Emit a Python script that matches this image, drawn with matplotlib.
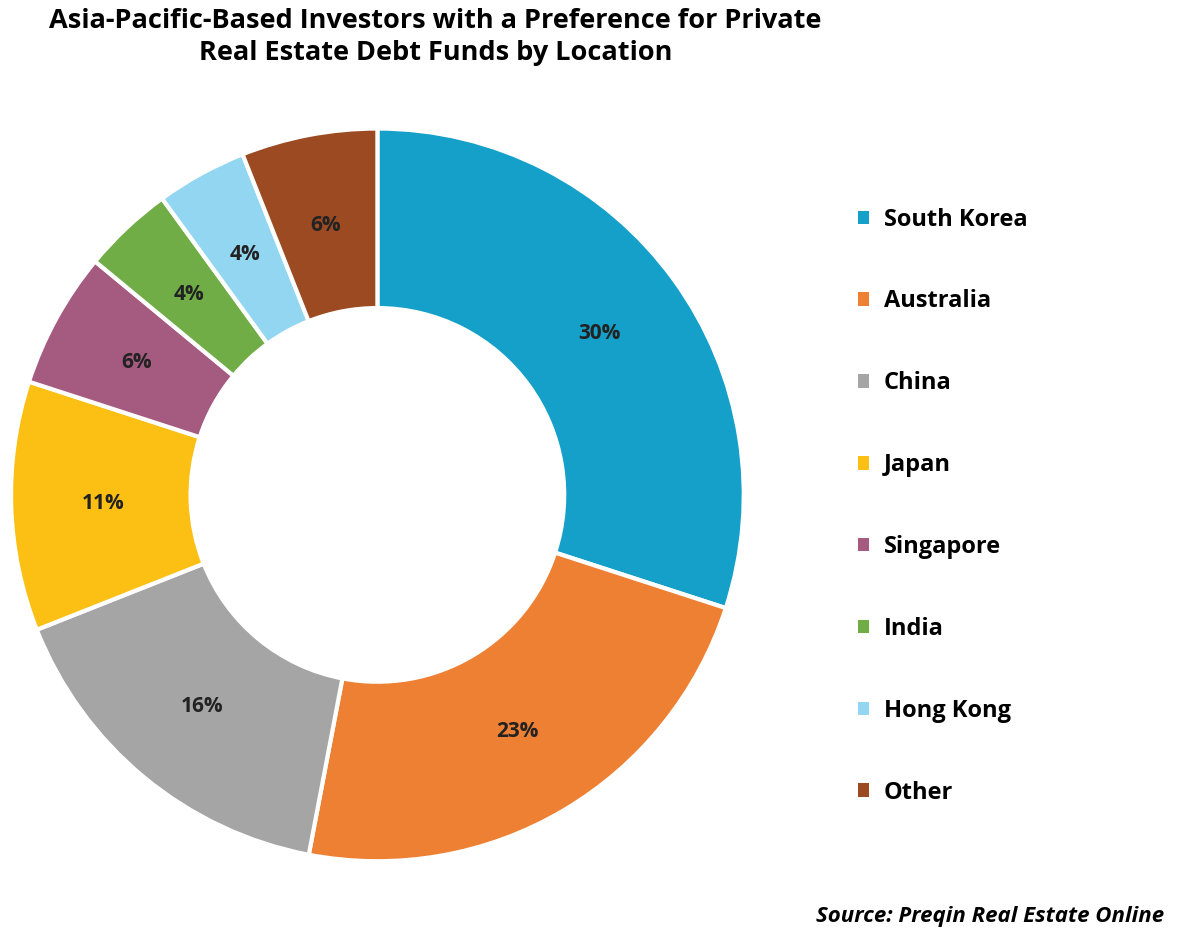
import matplotlib
matplotlib.use("Agg")
import matplotlib.pyplot as plt
from matplotlib.patches import Patch

labels = ["South Korea", "Australia", "China", "Japan", "Singapore", "India", "Hong Kong", "Other"]
values = [30, 23, 16, 11, 6, 4, 4, 6]
colors = ["#14a0c8", "#ee8033", "#a5a5a5", "#fcc014", "#a55a80", "#70ad47", "#92d6f2", "#9c4a22"]

plt.rcParams['font.family'] = ['Open Sans', 'DejaVu Sans']
fig = plt.figure(figsize=(12, 9.32), dpi=100)
ax = fig.add_axes([0.006, 0.072, 0.617, 0.794])
wedges, texts = ax.pie(values, colors=colors, startangle=90, counterclock=False,
                       wedgeprops=dict(width=0.49, edgecolor="white", linewidth=3),
                       labels=[f"{v}%" for v in values], labeldistance=0.75)
for t in texts:
    t.set_ha("center"); t.set_va("center")
    t.set_fontsize(15); t.set_fontweight("bold"); t.set_color("#222222")
ax.set_xlim(-1.01, 1.01)
ax.set_ylim(-1.01, 1.01)
ax.set_aspect("equal")

handles = [Patch(facecolor=c, edgecolor="none") for c in colors]
fig.legend(handles, labels, loc="upper left", bbox_to_anchor=(0.697, 0.8), frameon=False,
           prop=dict(size=17, weight="bold"), labelspacing=2.45, handlelength=0.5,
           handleheight=0.5, handletextpad=0.6)

fig.text(0.363, 0.96, "Asia-Pacific-Based Investors with a Preference for Private\nReal Estate Debt Funds by Location",
         ha="center", va="center", fontsize=19.5, fontweight="bold", linespacing=1.3)
fig.text(0.97, 0.005, "Source: Preqin Real Estate Online", ha="right", va="bottom",
         fontsize=16, fontweight="bold", style="italic")
fig.savefig("out.png", dpi=100)
